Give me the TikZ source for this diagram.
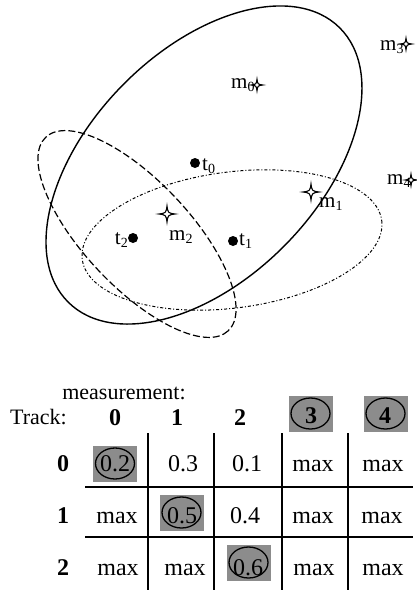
\documentclass[tikz,border=0pt]{standalone}
\usepackage{fontspec}
\setmainfont{Liberation Serif}
\newcommand{\sbs}[2]{#1\raisebox{-0.35ex}{\fontsize{14}{14}\selectfont #2}}
\begin{document}
\begin{tikzpicture}[x=1pt,y=-1pt,
  solidell/.style={line width=1.4pt},
  dashell/.style={line width=1.2pt, dash pattern=on 7pt off 3pt},
  dotell/.style={line width=1pt, dash pattern=on 3pt off 2pt on 1pt off 2pt},
  tdot/.style={circle, fill=black, inner sep=0pt, minimum size=10pt},
  lab/.style={inner sep=0pt, font=\fontsize{21}{21}\selectfont},
  cell/.style={inner sep=0pt, anchor=base, font=\fontsize{24}{24}\selectfont},
  hdr/.style={inner sep=0pt, anchor=base, font=\fontsize{24}{24}\selectfont\bfseries},
  ttl/.style={inner sep=0pt, font=\fontsize{22}{22}\selectfont},
  gridline/.style={line width=1.6pt},
  shadebox/.style={fill=black!45, draw=none, inner sep=0pt, minimum width=44pt, minimum height=36pt},
  ring/.style={draw=black, line width=1.3pt},
  sparkle/.pic={\draw[line width=1.1pt, fill=white] (0,-8) .. controls (1,-1) .. (8,0) .. controls (1,1) .. (0,8) .. controls (-1,1) .. (-8,0) .. controls (-1,-1) .. cycle;}
]
\useasboundingbox (0,0) rectangle (417,590);

% ellipses
\coordinate (c1) at (204,165);
\coordinate (c2) at (137,234);
\coordinate (c3) at (232,240);
\draw[solidell, rotate around={45.4:(c1)}] (c1) ellipse [x radius=193, y radius=114];
\draw[dashell, rotate around={-46.7:(c2)}] (c2) ellipse [x radius=133, y radius=53];
\draw[dotell, rotate around={7.4:(c3)}] (c3) ellipse [x radius=151, y radius=68];

% tracks
\node[tdot] (t0) at (195,163) {};
\node[tdot] (t1) at (233,241) {};
\node[tdot] (t2) at (133,238) {};
\node[lab, anchor=base west] (t0l) at (202,170) {\sbs{t}{0}};
\node[lab, anchor=base west] (t1l) at (239,245) {\sbs{t}{1}};
\node[lab, anchor=base east] (t2l) at (128,244) {\sbs{t}{2}};

% measurements
\pic (m1) at (311,192) {sparkle};
\pic (m2) at (167,214) {sparkle};
\node[lab, anchor=base west] (m1l) at (319,207) {\sbs{m}{1}};
\node[lab, anchor=base west] (m2l) at (169,240) {\sbs{m}{2}};
\node[lab, anchor=base west] (m0l) at (231,88) {\sbs{m}{0}};
\node[lab, anchor=base west] (m3l) at (380,50) {\sbs{m}{3}};
\node[lab, anchor=base west] (m4l) at (387,184) {\sbs{m}{4}};
\pic[scale=0.72] (m0) at (257,85) {sparkle};
\pic[scale=0.72] (m3) at (406,44) {sparkle};
\pic[scale=0.72] (m4) at (411,180) {sparkle};

% table highlight boxes
\node[shadebox] (b00) at (115,463.5) {};
\node[shadebox] (b11) at (181.5,512.5) {};
\node[shadebox] (b22) at (248.5,562.5) {};
\node[shadebox] (h3) at (310.5,413.5) {};
\node[shadebox] (h4) at (385.5,413.5) {};
\foreach \b in {b00,b11,b22,h3,h4}{
  \draw[ring] (\b.center) ellipse [x radius=19.5, y radius=15.5];
}

% grid
\coordinate (v1t) at (148,433); \coordinate (v1b) at (148,590);
\coordinate (v2t) at (214,433); \coordinate (v2b) at (214,590);
\coordinate (v3t) at (282,433); \coordinate (v3b) at (282,590);
\coordinate (v4t) at (348,433); \coordinate (v4b) at (348,590);
\coordinate (h1l) at (85,487); \coordinate (h1r) at (413,487);
\coordinate (h2l) at (85,537); \coordinate (h2r) at (413,537);
\draw[gridline] (v1t) -- (v1b);
\draw[gridline] (v2t) -- (v2b);
\draw[gridline] (v3t) -- (v3b);
\draw[gridline] (v4t) -- (v4b);
\draw[gridline] (h1l) -- (h1r);
\draw[gridline] (h2l) -- (h2r);

% titles
\node[ttl, anchor=base] (meas) at (124,399) {measurement:};
\node[ttl, anchor=base west] (track) at (10,424) {Track:};

% headers
\node[hdr] (hc0) at (115,425) {0};
\node[hdr] (hc1) at (177,425) {1};
\node[hdr] (hc2) at (240,425) {2};
\node[hdr] (hc3) at (311,423) {3};
\node[hdr] (hc4) at (385,423) {4};
\node[hdr] (hr0) at (63,471) {0};
\node[hdr] (hr1) at (63,523) {1};
\node[hdr] (hr2) at (63,575) {2};

% cells
\node[cell] (c00) at (115,471) {0.2};
\node[cell] (c01) at (183,471) {0.3};
\node[cell] (c02) at (247,471) {0.1};
\node[cell] (c03) at (313,471) {max};
\node[cell] (c04) at (383,471) {max};
\node[cell] (c10) at (117,523) {max};
\node[cell] (c11) at (182,523) {0.5};
\node[cell] (c12) at (245,523) {0.4};
\node[cell] (c13) at (313,523) {max};
\node[cell] (c14) at (382,523) {max};
\node[cell] (c20) at (118,575) {max};
\node[cell] (c21) at (185,575) {max};
\node[cell] (c22) at (248,575) {0.6};
\node[cell] (c23) at (314,575) {max};
\node[cell] (c24) at (383,575) {max};
\end{tikzpicture}
\end{document}
